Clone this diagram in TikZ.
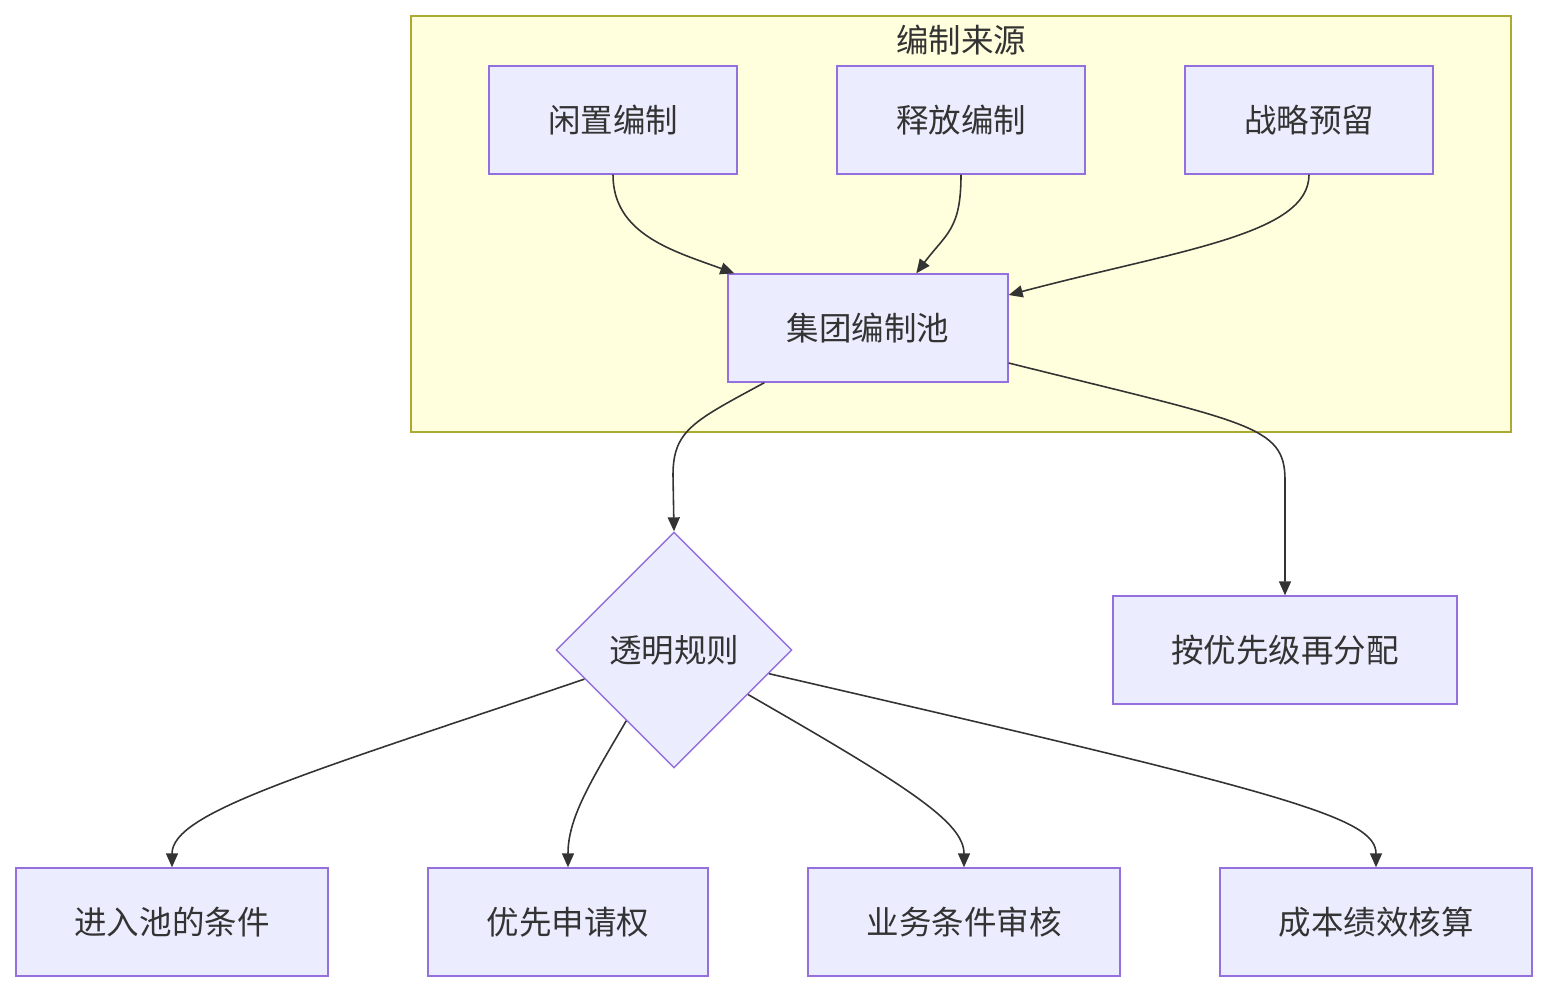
\documentclass[tikz,border=0pt]{standalone}
\usepackage{fontspec}
\usepackage{xcolor}
\usepackage{tikz}
\usetikzlibrary{shapes.geometric,arrows.meta}
\newfontfamily\cjk{Noto Sans CJK SC}
\definecolor{boxfill}{HTML}{ECECFF}
\definecolor{boxline}{HTML}{9370DB}
\definecolor{groupfill}{HTML}{FFFFDE}
\definecolor{groupline}{HTML}{AAAA33}
\definecolor{ink}{HTML}{333333}

\begin{document}
\begin{tikzpicture}[x=0.02cm, y=-0.02cm,
    box/.style={draw=boxline, fill=boxfill, line width=0.8pt, minimum height=2.16cm,
      inner sep=0pt, text=ink, font=\cjk\fontsize{18.5}{22}\selectfont},
    rulebox/.style={diamond, draw=boxline, fill=boxfill, line width=0.8pt,
      minimum width=4.72cm, minimum height=4.72cm, inner sep=0pt, text=ink,
      font=\cjk\fontsize{18.5}{22}\selectfont},
    link/.style={draw=ink, line width=0.9pt, -{Triangle[length=0.28cm, width=0.24cm]}}]
  \useasboundingbox (0,0) rectangle (1548,992);
  % group
  \node[draw=groupline, fill=groupfill, line width=0.8pt, minimum width=22cm,
    minimum height=8.32cm, inner sep=0pt] (group) at (961,224) {};
  \node[text=ink, font=\cjk\fontsize{18.5}{22}\selectfont] (grouptitle) at (961,40) {编制来源};
  % sources
  \node[box, minimum width=4.96cm] (idle) at (613,120) {闲置编制};
  \node[box, minimum width=4.96cm] (release) at (961,120) {释放编制};
  \node[box, minimum width=4.96cm] (reserve) at (1309,120) {战略预留};
  \node[box, minimum width=5.6cm] (pool) at (868,328) {集团编制池};
  % rules
  \node[rulebox] (rule) at (674,650) {透明规则};
  \node[box, minimum width=6.88cm] (realloc) at (1285,650) {按优先级再分配};
  \node[box, minimum width=6.24cm] (entry) at (172,922) {进入池的条件};
  \node[box, minimum width=5.6cm] (priority) at (568,922) {优先申请权};
  \node[box, minimum width=6.24cm] (review) at (964,922) {业务条件审核};
  \node[box, minimum width=6.24cm] (cost) at (1376,922) {成本绩效核算};

  \draw[link] (idle.south) .. controls +(0,60) and +(-60,-22) .. ([xshift=0.14cm]pool.north west);
  \draw[link] (release.south) .. controls +(0,55) and +(30,-40) .. ([xshift=3.78cm]pool.north west);
  \draw[link] (reserve.south) .. controls +(0,60) and +(170,-45) .. ([yshift=0.66cm]pool.east);
  \draw[link] ([xshift=0.74cm]pool.south west) .. controls +(-70,38) and +(0,-45) .. (673,475) -- (rule.north);
  \draw[link] ([yshift=-0.7cm]pool.east) .. controls +(240,60) and +(0,-55) .. (1285,480) -- (realloc.north);
  \draw[link] (rule.198.6) .. controls +(-280,95) and +(0,-55) .. (entry.north);
  \draw[link] (rule.236.9) .. controls +(-35,60) and +(0,-50) .. (priority.north);
  \draw[link] (rule.329.8) .. controls +(160,92) and +(0,-45) .. (review.north);
  \draw[link] (rule.346.5) .. controls +(520,120) and +(0,-50) .. (cost.north);
\end{tikzpicture}
\end{document}
